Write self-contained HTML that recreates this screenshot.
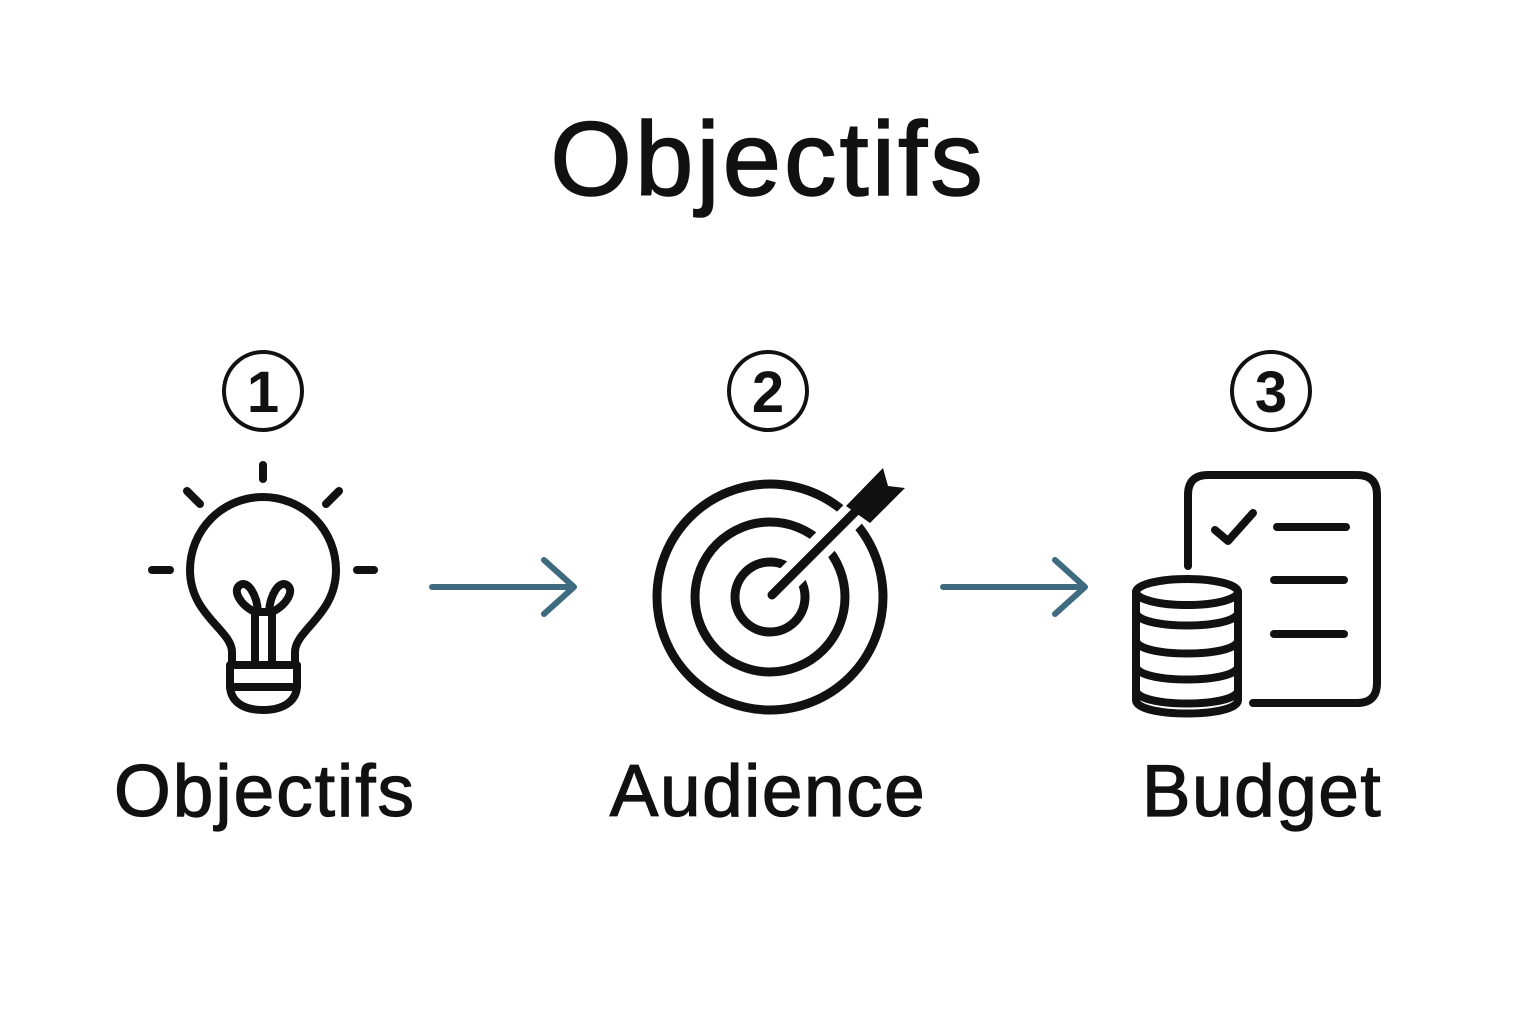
<!DOCTYPE html>
<html><head><meta charset="utf-8"><style>
html,body{margin:0;padding:0;background:#fff;}
svg{display:block}
text{font-family:"Liberation Sans",sans-serif;fill:#111;stroke:#111;paint-order:stroke}
</style></head><body>
<svg width="1536" height="1024" viewBox="0 0 1536 1024">
<text x="768" y="195" font-size="105" text-anchor="middle" stroke-width="1.5" letter-spacing="3">Objectifs</text>

<g fill="none" stroke="#111" stroke-width="4">
<circle cx="263" cy="391" r="39"/>
<circle cx="768" cy="391" r="39"/>
<circle cx="1271" cy="391" r="39"/>
</g>
<g font-size="58" font-weight="bold" text-anchor="middle" stroke-width="0">
<text x="263" y="412">1</text>
<text x="768" y="412">2</text>
<text x="1271" y="412">3</text>
</g>

<!-- bulb -->
<g fill="none" stroke="#111" stroke-width="8" stroke-linecap="round" stroke-linejoin="round">
<line x1="263" y1="465" x2="263" y2="479"/>
<line x1="187" y1="491" x2="200" y2="504"/>
<line x1="339" y1="491" x2="326" y2="504"/>
<line x1="152" y1="570" x2="170" y2="570"/>
<line x1="357" y1="570" x2="374" y2="570"/>
<path d="M232 665 L232 652 C232 630 190 615 190 570 A73 73 0 0 1 336 570 C336 615 295 630 295 652 L295 665"/>
<path d="M230 665 L297 665 L297 685 C297 700 285 710 263 710 C241 710 230 700 230 685 Z"/>
<line x1="230" y1="687" x2="297" y2="687"/>
<path d="M255 662 L255 612 C240 605 232 590 240 585 C248 580 257 595 258 612"/>
<path d="M272 662 L272 612 C287 605 295 590 287 585 C279 580 270 595 269 612"/>
<line x1="255" y1="612" x2="272" y2="612"/>
</g>

<!-- arrows -->
<g fill="none" stroke="#3f6b80" stroke-width="6" stroke-linecap="round" stroke-linejoin="round">
<path d="M432 587 L574 587 M544 560 L574 587 L544 614"/>
<path d="M943 587 L1085 587 M1055 560 L1085 587 L1055 614"/>
</g>

<!-- target -->
<g fill="none" stroke="#111" stroke-width="9">
<circle cx="770" cy="597" r="113"/>
<circle cx="770" cy="597" r="75"/>
<circle cx="770" cy="597" r="35"/>
</g>
<line x1="772" y1="595" x2="870" y2="497" stroke="#fff" stroke-width="26"/>
<line x1="772" y1="595" x2="858" y2="509" stroke="#111" stroke-width="9" stroke-linecap="round"/>
<path d="M846 506 L883 468 L888 486 L905 488 L870 523 Z" fill="#111"/>

<!-- budget -->
<g fill="none" stroke="#111" stroke-width="8" stroke-linecap="round" stroke-linejoin="round">
<path d="M1188 566 L1188 495 Q1188 475 1208 475 L1357 475 Q1377 475 1377 495 L1377 683 Q1377 703 1357 703 L1253 703"/>
<path d="M1215 530 L1228 541 L1253 513"/>
<line x1="1277" y1="527" x2="1346" y2="527"/>
<line x1="1274" y1="580" x2="1344" y2="580"/>
<line x1="1274" y1="634" x2="1344" y2="634"/>
<ellipse cx="1187" cy="592" rx="51" ry="13"/>
<path d="M1136 592 L1136 700 C1136 718 1238 718 1238 700 L1238 592"/>
<path d="M1136 612 C1136 630 1238 630 1238 612"/>
<path d="M1136 640 C1136 658 1238 658 1238 640"/>
<path d="M1136 666 C1136 684 1238 684 1238 666"/>
<path d="M1136 690 C1136 708 1238 708 1238 690"/>
</g>

<g font-size="73" text-anchor="middle" stroke-width="1.2">
<text x="265" y="816" letter-spacing="2">Objectifs</text>
<text x="768" y="816" letter-spacing="1.5">Audience</text>
<text x="1262" y="816" letter-spacing="1.5">Budget</text>
</g>
</svg>
</body></html>
